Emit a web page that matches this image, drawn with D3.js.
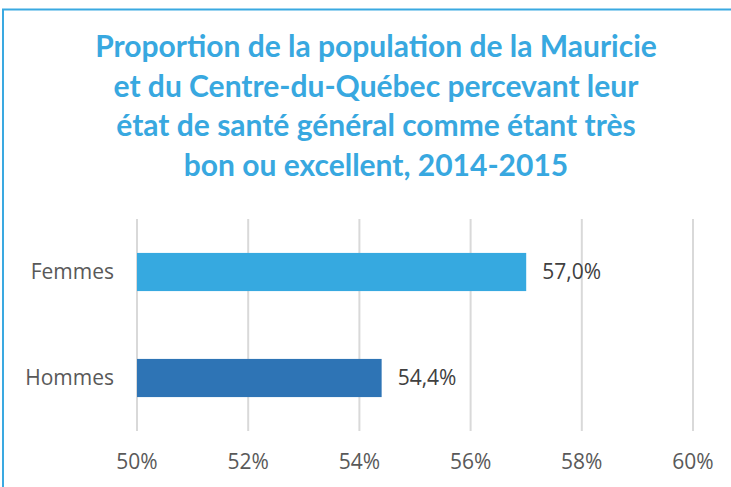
<!DOCTYPE html>
<html>
  <head>
    <meta charset="utf-8">
    <style>
      body { margin: 0; background: #fff; }
      svg { display: block; }
      .title { font-family: Lato, sans-serif; font-weight: bold; fill: #38A8E0; }
      .lbl { font-family: "Open Sans", sans-serif; font-size: 21px; fill: #595959; }
      .val { font-family: "Open Sans", sans-serif; font-size: 21px; fill: #404040; }
    </style>
    <script src="https://cdn.jsdelivr.net/npm/d3@7"></script>
  </head>
  <body>
    <svg id="svg"></svg>
    <script>
      var width = 731,
          height = 487;

      // data
      var titleLines = [
        "Proportion de la population de la Mauricie",
        "et du Centre-du-Québec percevant leur",
        "état de santé général comme étant très",
        "bon ou excellent, 2014-2015"
      ];
      var categories = ["Femmes", "Hommes"];
      var values = [0.570, 0.544];
      var tickValues = [0.50, 0.52, 0.54, 0.56, 0.58, 0.60];
      var colors = ["#36A9E0", "#2E74B5"];

      var svg = d3.select("#svg")
          .attr("width", width)
          .attr("height", height);

      // frame (left + top edges visible)
      svg.append("path")
          .attr("d", "M3,487 V9.5 H731")
          .attr("fill", "none")
          .attr("stroke", "#3AA9E1")
          .attr("stroke-width", 2);

      // title
      svg.append("text")
          .attr("class", "title")
          .attr("text-anchor", "middle")
          .attr("font-size", 30)
        .selectAll("tspan")
        .data(titleLines)
        .enter().append("tspan")
          .attr("x", 376)
          .attr("y", (d, i) => 57 + i * 39.7)
          .text(d => d);

      var x = d3.scaleLinear()
          .domain([0.50, 0.60])
          .range([137, 693]);

      var y = d3.scaleBand()
          .domain(categories)
          .range([219, 431])
          .paddingInner(0.64)
          .paddingOuter(0.32);

      // gridlines
      svg.append("g")
        .selectAll("line")
        .data(tickValues)
        .enter().append("line")
          .attr("x1", d => x(d))
          .attr("x2", d => x(d))
          .attr("y1", 219)
          .attr("y2", 431)
          .attr("stroke", "#D9D9D9")
          .attr("stroke-width", 2);

      // x axis labels
      var fmtTick = d => Math.round(d * 100) + "%";
      svg.append("g")
        .selectAll("text")
        .data(tickValues)
        .enter().append("text")
          .attr("class", "lbl")
          .attr("x", d => x(d))
          .attr("y", 462)
          .attr("dy", "0.35em")
          .attr("text-anchor", "middle")
          .text(fmtTick);

      // bars
      svg.append("g")
        .selectAll("rect")
        .data(categories)
        .enter().append("rect")
          .attr("x", x(0.50))
          .attr("y", d => y(d))
          .attr("width", (d, i) => x(values[i]) - x(0.50))
          .attr("height", y.bandwidth())
          .attr("fill", (d, i) => colors[i]);

      // category labels
      svg.append("g")
        .selectAll("text")
        .data(categories)
        .enter().append("text")
          .attr("class", "lbl")
          .attr("x", 114)
          .attr("y", d => y(d) + y.bandwidth() / 2)
          .attr("dy", "0.35em")
          .attr("text-anchor", "end")
          .text(d => d);

      // value labels
      var fmtVal = v => (v * 100).toFixed(1).replace(".", ",") + "%";
      svg.append("g")
        .selectAll("text")
        .data(categories)
        .enter().append("text")
          .attr("class", "val")
          .attr("x", (d, i) => x(values[i]) + 16)
          .attr("y", d => y(d) + y.bandwidth() / 2)
          .attr("dy", "0.35em")
          .text((d, i) => fmtVal(values[i]));
    </script>
  </body>
</html>
